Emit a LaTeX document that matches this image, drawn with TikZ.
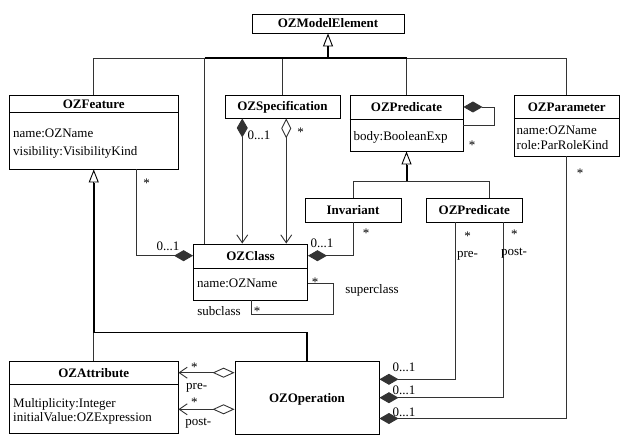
\documentclass[tikz,border=0pt]{standalone}
\usepackage{fontspec}
\setmainfont{Liberation Serif}
\usetikzlibrary{arrows.meta}
\tikzset{
  fdia/.tip={Diamond[length=19pt,width=11pt]},
  odia/.tip={Diamond[open,length=20pt,width=10pt]},
  odib/.tip={Diamond[open,length=22pt,width=10pt]},
  barb/.tip={Straight Barb[length=8pt,width=11pt]}
}
\begin{document}
\begin{tikzpicture}[x=1pt,y=-1pt,
  every node/.style={font=\fontsize{13}{15}\selectfont},
  box/.style={draw=black, line width=0.9pt, inner sep=0pt, fill=white},
  ttl/.style={font=\fontsize{13}{15}\selectfont\bfseries, inner sep=0pt, text height=9pt, text depth=0pt},
  attr/.style={inner sep=0pt, anchor=base west},
  lbl/.style={inner sep=0pt, anchor=base},
  sepline/.style={draw=black, line width=0.9pt},
  conn/.style={draw=black!80, line width=0.9pt},
  gen/.style={draw=black, line width=0.9pt, -{Triangle[open,length=13pt,width=10pt]}},
  stem/.style={draw=black, line width=2pt}
]
\useasboundingbox (0,0) rectangle (620,435);

% ---------- boxes ----------
\node[box, minimum width=152pt, minimum height=19pt] (me) at (328,23.5) {};
\node[ttl] (meT) at (me.center) {OZModelElement};

\node[box, minimum width=168.5pt, minimum height=74pt] (feat) at (93.75,132) {};
\node[ttl] (featT) at (93.75,103.75) {OZFeature};
\draw[sepline] (feat.west |- 0,112.5) -- (feat.east |- 0,112.5);
\node[attr] (featA1) at (13,137.5) {name:OZName};
\node[attr] (featA2) at (13,156) {visibility:VisibilityKind};

\node[box, minimum width=115pt, minimum height=23pt] (spec) at (282.5,106.5) {};
\node[ttl] (specT) at (spec.center) {OZSpecification};

\node[box, minimum width=113pt, minimum height=56pt] (pred) at (406.5,123) {};
\node[ttl] (predT) at (406.5,107) {OZPredicate};
\draw[sepline] (pred.west |- 0,119) -- (pred.east |- 0,119);
\node[attr] (predA1) at (353.5,141) {body:BooleanExp};

\node[box, minimum width=105.5pt, minimum height=61pt] (param) at (566.75,125.5) {};
\node[ttl] (paramT) at (566.75,106.75) {OZParameter};
\draw[sepline] (param.west |- 0,118.5) -- (param.east |- 0,118.5);
\node[attr] (paramA1) at (516.5,134.5) {name:OZName};
\node[attr] (paramA2) at (516.5,149.5) {role:ParRoleKind};

\node[box, minimum width=96pt, minimum height=24pt] (inv) at (353,210) {};
\node[ttl] (invT) at (inv.center) {Invariant};

\node[box, minimum width=96.5pt, minimum height=24pt] (pred2) at (474.25,210) {};
\node[ttl] (pred2T) at (pred2.center) {OZPredicate};

\node[box, minimum width=114pt, minimum height=56pt] (cls) at (250.5,272) {};
\node[ttl] (clsT) at (250.5,256) {OZClass};
\draw[sepline] (cls.west |- 0,268) -- (cls.east |- 0,268);
\node[attr] (clsA1) at (197,287.8) {name:OZName};

\node[box, minimum width=168.5pt, minimum height=72pt] (attrb) at (93.75,397) {};
\node[ttl] (attrbT) at (93.75,372.5) {OZAttribute};
\draw[sepline] (attrb.west |- 0,384) -- (attrb.east |- 0,384);
\node[attr] (attrbA1) at (13,407) {Multiplicity:Integer};
\node[attr] (attrbA2) at (13,421) {initialValue:OZExpression};

\node[box, minimum width=144pt, minimum height=73pt] (op) at (307,397.5) {};
\node[ttl] (opT) at (op.center) {OZOperation};

% ---------- generalization to OZModelElement ----------
\coordinate (meStem) at (328,46.5);
\coordinate (meBus) at (328,58);
\coordinate (clsTop) at ([xshift=11.5pt]cls.north west);
\draw[conn] (feat.north) -- (feat.north |- meBus) -- (param.north |- meBus) -- (param.north);
\draw[conn] (clsTop) -- (clsTop |- meBus);
\draw[conn] (spec.north) -- (spec.north |- meBus);
\draw[conn] (pred.north) -- (pred.north |- meBus);
\draw[line width=1.6pt] (clsTop |- meBus) -- (pred.north |- meBus);
\draw[stem] (meBus) -- (meStem);
\draw[gen] (meStem) -- (me.south);

% ---------- OZSpecification -> OZClass ----------
\coordinate (sA) at ([xshift=17.7pt]spec.south west);
\coordinate (sB) at ([xshift=61.7pt]spec.south west);
\draw[conn, {fdia}-{barb}] (sA) -- (sA |- cls.north);
\draw[conn, {odia}-{barb}] (sB) -- (sB |- cls.north);
\node[lbl] (lsA) at (259,139.5) {0...1};
\node[lbl] (lsB) at (300.7,137) {*};

% ---------- OZFeature -> OZClass ----------
\coordinate (fA) at ([xshift=127.2pt]feat.south west);
\coordinate (fBend) at (fA |- 0,255.7);
\draw[conn, -{fdia}] (fA) -- (fBend) -- (fBend -| cls.west);
\node[lbl] (lfA) at (146.7,187.7) {*};
\node[lbl] (lfB) at (168,251) {0...1};

% ---------- Invariant -> OZClass ----------
\coordinate (iBend) at (inv.south |- 0,255.7);
\draw[conn, -{fdia}] (inv.south) -- (iBend) -- (iBend -| cls.east);
\node[lbl] (liA) at (366,238) {*};
\node[lbl] (liB) at (322,247.5) {0...1};

% ---------- OZClass self association ----------
\coordinate (cs1) at (333.3,283.3);
\coordinate (cs2) at (333.3,314);
\coordinate (cs3) at (251,314);
\draw[conn] (cs1 -| cls.east) -- (cs1) -- (cs2) -- (cs3) -- (cs3 |- cls.south);
\node[lbl] (lcA) at (315,287) {*};
\node[lbl] (lcB) at (257,315) {*};
\node[lbl] (lcC) at (372,293.5) {superclass};
\node[lbl] (lcD) at (219,315.5) {subclass};

% ---------- OZPredicate self composition ----------
\coordinate (ps1) at (494,107);
\coordinate (ps2) at (494,125);
\draw[conn, {fdia}-] (ps1 -| pred.east) -- (ps1) -- (ps2) -- (ps2 -| pred.east);
\node[lbl] (lpA) at (472,150) {*};

% ---------- generalization to OZPredicate ----------
\coordinate (pStem) at (pred.south |- 0,165);
\coordinate (pBus) at (pred.south |- 0,181);
\coordinate (p2Drop) at (489.3,181);
\draw[conn] (inv.north) -- (inv.north |- pBus) -- (p2Drop) -- (p2Drop |- pred2.north);
\draw[stem] (pBus) -- (pStem);
\draw[gen] (pStem) -- (pred.south);

% ---------- OZPredicate / OZParameter -> OZOperation ----------
\coordinate (q1) at (455,379.3);
\coordinate (q2) at (503.7,397.7);
\coordinate (q3) at (param.south |- 0,418.5);
\draw[conn, -{fdia}] (q1 |- pred2.south) -- (q1) -- (q1 -| op.east);
\draw[conn, -{fdia}] (q2 |- pred2.south) -- (q2) -- (q2 -| op.east);
\draw[conn, -{fdia}] (param.south) -- (q3) -- (q3 -| op.east);
\node[lbl] (lqA) at (467.7,240.5) {*};
\node[lbl] (lqB) at (467.5,258) {pre-};
\node[lbl] (lqC) at (514.3,239) {*};
\node[lbl] (lqD) at (514,256) {post-};
\node[lbl] (lqE) at (580,178) {*};
\node[lbl] (lqF) at (404,371.5) {0...1};
\node[lbl] (lqG) at (404,394.5) {0...1};
\node[lbl] (lqH) at (404,416) {0...1};

% ---------- OZOperation -> OZAttribute ----------
\coordinate (o1) at (op.west |- 0,372.7);
\coordinate (o2) at (op.west |- 0,409.3);
\draw[conn, {odib}-{barb}] (o1) -- (o1 -| attrb.east);
\draw[conn, {odib}-{barb}] (o2) -- (o2 -| attrb.east);
\node[lbl] (loA) at (194.3,371) {*};
\node[lbl] (loB) at (196.7,389) {pre-};
\node[lbl] (loC) at (194.3,406) {*};
\node[lbl] (loD) at (198.3,425) {post-};

% ---------- generalization to OZFeature ----------
\coordinate (aBend) at (attrb.north |- 0,332.7);
\coordinate (fStem) at (attrb.north |- 0,183.3);
\draw[conn] (attrb.north) -- (aBend);
\draw[line width=1.3pt] (op.north) -- (op.north |- aBend) -- (aBend);
\draw[stem] (aBend) -- (fStem);
\draw[gen] (fStem) -- (feat.south);
\end{tikzpicture}
\end{document}
